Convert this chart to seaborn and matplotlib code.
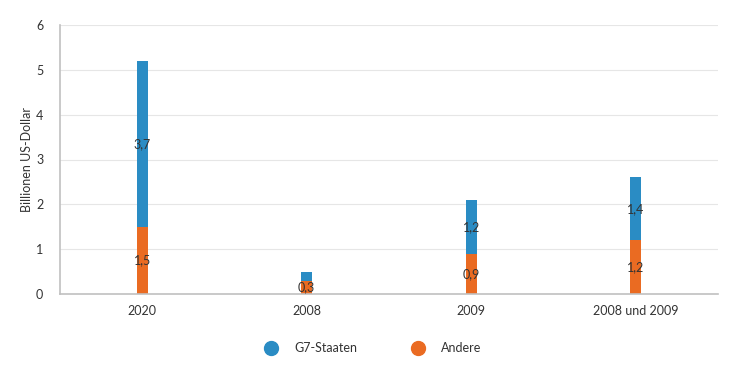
import matplotlib
matplotlib.use("Agg")
import matplotlib.pyplot as plt
import seaborn as sns
import pandas as pd
from matplotlib.lines import Line2D

categories = ["2020", "2008", "2009", "2008 und 2009"]
g7 = [3.7, 0.2, 1.2, 1.4]
andere = [1.5, 0.3, 0.9, 1.2]
g7_labels = ["3,7", "", "1,2", "1,4"]
andere_labels = ["1,5", "0,3", "0,9", "1,2"]

blue = "#2a8cc4"
orange = "#ea6b22"

sns.set_theme(style="white")
plt.rcParams["font.family"] = ["Lato", "DejaVu Sans"]

df = pd.DataFrame({
    "cat": categories,
    "total": [a + b for a, b in zip(g7, andere)],
    "andere": andere,
})

fig = plt.figure(figsize=(7.46, 3.65), dpi=100)
ax = fig.add_axes([60 / 746, 1 - 294 / 365, 658 / 746, 269 / 365])

sns.barplot(data=df, x="cat", y="total", color=blue, width=0.067, ax=ax,
            saturation=1, edgecolor="none")
sns.barplot(data=df, x="cat", y="andere", color=orange, width=0.067, ax=ax,
            saturation=1, edgecolor="none")

for i in range(len(categories)):
    ax.text(i, andere[i] / 2, andere_labels[i], ha="center", va="center",
            fontsize=9, color="#333333")
    if g7_labels[i]:
        ax.text(i, andere[i] + g7[i] / 2, g7_labels[i], ha="center", va="center",
                fontsize=9, color="#333333")

ax.set_ylim(0, 6)
ax.set_yticks(range(7))
ax.set_xlim(-0.5, len(categories) - 0.5)
ax.set_xlabel("")
ax.set_ylabel("Billionen US-Dollar", fontsize=9, color="#333333", labelpad=2)
ax.grid(axis="y", color="#e6e6e6", linewidth=0.8)
ax.set_axisbelow(True)
for s in ["top", "right"]:
    ax.spines[s].set_visible(False)
ax.spines["left"].set_color("#c0c0c0")
ax.spines["bottom"].set_color("#c0c0c0")
ax.spines["left"].set_linewidth(1.2)
ax.spines["bottom"].set_linewidth(1.2)
ax.tick_params(axis="both", labelsize=9, colors="#333333", length=0)
ax.tick_params(axis="y", pad=12)
ax.tick_params(axis="x", pad=8)
# category separator ticks
ax.set_xticks([i + 0.5 for i in range(-1, len(categories))], minor=True)
ax.tick_params(axis="x", which="minor", length=6, color="#c0c0c0", width=1)

handles = [Line2D([], [], marker="o", linestyle="none", markersize=10,
                  markerfacecolor=blue, markeredgecolor=blue, label="G7-Staaten"),
           Line2D([], [], marker="o", linestyle="none", markersize=10,
                  markerfacecolor=orange, markeredgecolor=orange, label="Andere")]
fig.legend(handles=handles, loc="center", bbox_to_anchor=(370 / 746, 1 - 348 / 365),
           ncol=2, frameon=False, fontsize=9, handletextpad=0.9, columnspacing=3.8,
           labelcolor="#333333")

fig.savefig("out.png", dpi=100)
